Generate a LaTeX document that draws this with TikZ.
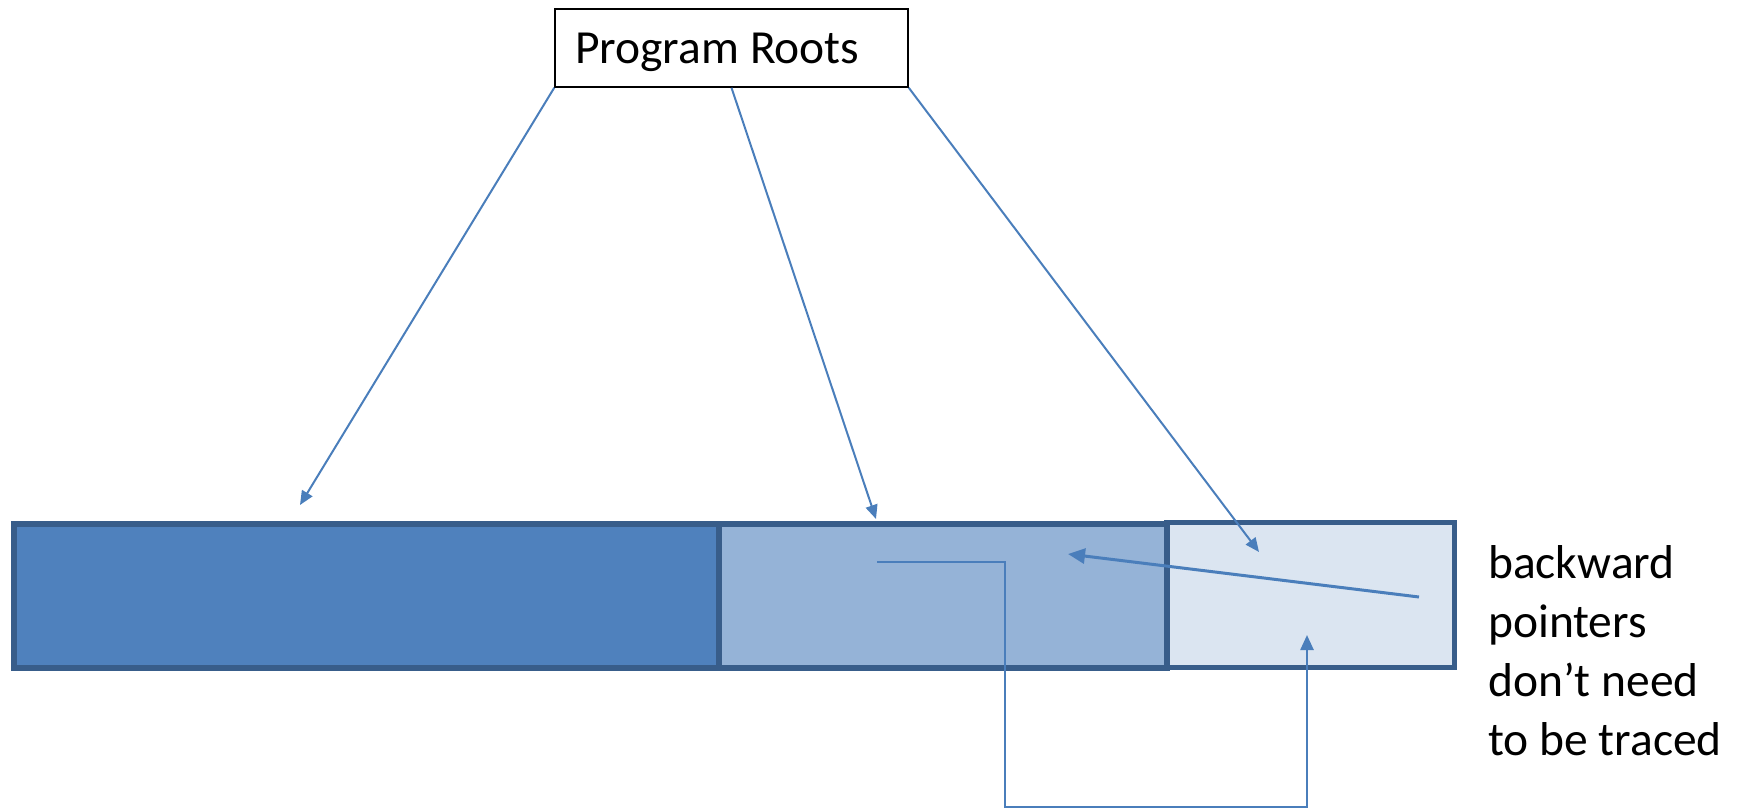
\documentclass[tikz,border=0pt]{standalone}
\usepackage{fontspec}
\setmainfont{Carlito}
\usetikzlibrary{arrows.meta}
\definecolor{regionDark}{HTML}{4F81BD}
\definecolor{regionMid}{HTML}{95B3D7}
\definecolor{regionLight}{HTML}{DBE5F1}
\definecolor{regionEdge}{HTML}{385D8A}
\definecolor{ptr}{HTML}{4A7EBB}
\tikzset{
  region/.style={draw=regionEdge, line width=5.5pt, rectangle, inner sep=0pt,
    anchor=north west},
  rootbox/.style={draw=black, line width=1.5pt, rectangle, inner sep=0pt,
    minimum width=353pt, minimum height=78pt},
  rootptr/.style={draw=ptr, line width=2pt, -{Triangle[length=14pt,width=12pt]}},
  backptr/.style={draw=ptr, line width=3pt, -{Triangle[length=17pt,width=15pt]}},
  elbowptr/.style={draw=ptr, line width=2.5pt, -{Triangle[length=15pt,width=13pt]}},
  txt/.style={font=\fontsize{47.5}{59}\selectfont, inner sep=0pt}
}
\begin{document}
\begin{tikzpicture}[x=1pt, y=-1pt]
  \useasboundingbox (0,0) rectangle (1741,809);

  % heap regions
  \node[region, fill=regionDark, minimum width=705pt, minimum height=144pt] (old) at (11,521) {};
  \node[region, fill=regionMid, minimum width=448pt, minimum height=144pt] (mid) at (716,521) {};
  \node[region, fill=regionLight, minimum width=287.5pt, minimum height=145pt] (young) at (1164,519.5) {};

  % root set
  \node[rootbox] (roots) at (731.5,48) {};
  \node[txt, anchor=base west] (rootslabel) at (575,63) {Program Roots};

  % pointer targets
  \coordinate (tOld) at (300,505);
  \coordinate (tMid) at (876,519);
  \coordinate (tYoung) at (1259,552);
  \coordinate (bFrom) at (1419,597);
  \coordinate (bTo) at (1068,554);
  \coordinate (eFrom) at (877,562);
  \coordinate (eTo) at (1307,635);

  \draw[rootptr] (roots.south west) -- (tOld);
  \draw[rootptr] (roots.south) -- (tMid);
  \draw[rootptr] (roots.south east) -- (tYoung);

  \draw[backptr] (bFrom) -- (bTo);
  \draw[elbowptr] (eFrom) -- (1005,562) -- (1005,807) -- (1307,807) -- (eTo);

  % the base anchor of a multi-line node sits on its last line
  \node[txt, anchor=base west, align=left] (note) at (1488,755)
    {backward\\pointers\\don’t need\\to be traced};
\end{tikzpicture}
\end{document}
